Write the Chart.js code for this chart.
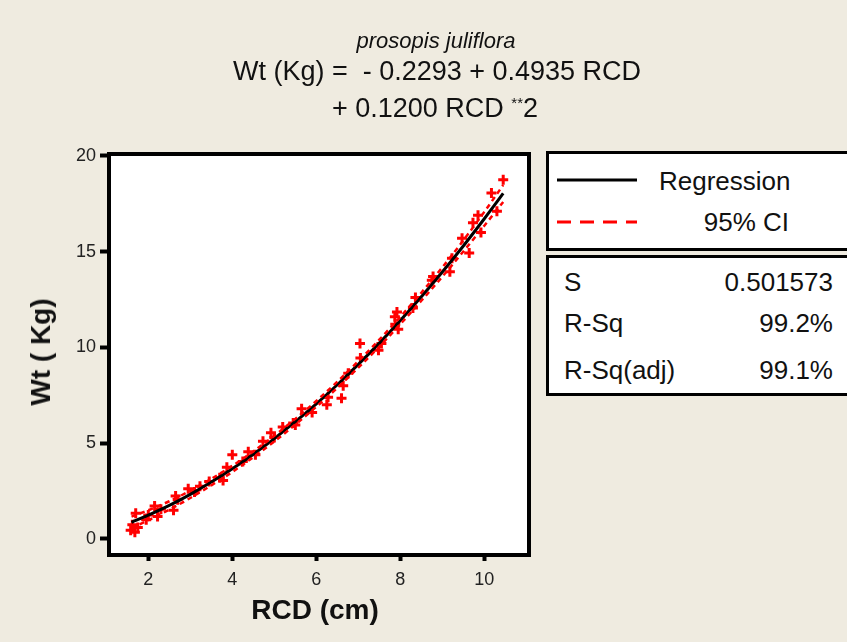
<!DOCTYPE html>
<html>
<head>
<meta charset="utf-8">
<script src="https://cdn.jsdelivr.net/npm/chart.js@4.4.1/dist/chart.umd.min.js"></script>
<style>
  html, body { margin:0; padding:0; background:#efebe0; }
  #wrap { position:relative; width:847px; height:642px; overflow:hidden; background:#efebe0; font-family:"Liberation Sans", Arial, sans-serif; color:#111; }
  canvas { position:absolute; left:0; top:0; }
  .t { position:absolute; white-space:nowrap; line-height:1; }
  .box { position:absolute; background:#fff; border:3px solid #000; box-sizing:border-box; }
</style>
</head>
<body>
<div id="wrap">
  <canvas id="c" width="847" height="642"></canvas>

  <div class="t" style="left:436px; top:41px; transform:translate(-50%,-50%); font-size:22px; font-style:italic;">prosopis juliflora</div>
  <div class="t" style="left:437px; top:71px; transform:translate(-50%,-50%); font-size:27px;">Wt (Kg) = &nbsp;- 0.2293 + 0.4935 RCD</div>
  <div class="t" style="left:435px; top:108px; transform:translate(-50%,-50%); font-size:27px;">+ 0.1200 RCD <span style="font-size:15px; vertical-align:9px;">**</span>2</div>

  <div class="t" style="left:41px; top:352px; transform:translate(-50%,-50%) rotate(-90deg); font-size:28px; font-weight:bold;">Wt ( Kg)</div>
  <div class="t" style="left:315px; top:610px; transform:translate(-50%,-50%); font-size:28px; font-weight:bold;">RCD (cm)</div>

  <div class="box" style="left:546px; top:151px; width:320px; height:100px;"></div>
  <svg style="position:absolute; left:0; top:0;" width="847" height="642">
    <line x1="557" y1="180" x2="637" y2="180" stroke="#000" stroke-width="3"/>
    <line x1="557" y1="222" x2="637" y2="222" stroke="#ff0000" stroke-width="3" stroke-dasharray="14 9"/>
  </svg>
  <div class="t" style="left:659px; top:181px; transform:translateY(-50%); font-size:26px;">Regression</div>
  <div class="t" style="right:58px; top:222px; transform:translateY(-50%); font-size:26px;">95% CI</div>

  <div class="box" style="left:546px; top:255px; width:320px; height:141px;"></div>
  <div class="t" style="left:564px; top:282px; transform:translateY(-50%); font-size:26px;">S</div>
  <div class="t" style="right:14px; top:282px; transform:translateY(-50%); font-size:26px;">0.501573</div>
  <div class="t" style="left:564px; top:323px; transform:translateY(-50%); font-size:26px;">R-Sq</div>
  <div class="t" style="right:14px; top:323px; transform:translateY(-50%); font-size:26px;">99.2%</div>
  <div class="t" style="left:564px; top:370px; transform:translateY(-50%); font-size:26px;">R-Sq(adj)</div>
  <div class="t" style="right:14px; top:370px; transform:translateY(-50%); font-size:26px;">99.1%</div>
</div>

<script>
// ---- data ----
const rcd = [1.58, 1.62, 1.68, 1.70, 1.75, 1.95, 2.00, 2.15, 2.22, 2.30,
             2.60, 2.65, 2.70, 2.95, 3.10, 3.23, 3.45, 3.70, 3.78, 3.87,
             4.00, 4.25, 4.38, 4.55, 4.73, 4.92, 5.00, 5.20, 5.45, 5.50,
             5.65, 5.90, 6.25, 6.28, 6.60, 6.64, 6.76, 7.04, 7.05, 7.48,
             7.55, 7.87, 7.88, 7.92, 7.95, 8.30, 8.36, 8.75, 8.78, 9.18,
             9.23, 9.47, 9.64, 9.73, 9.85, 9.92, 10.17, 10.30, 10.45];
const wt  = [0.45, 0.75, 0.35, 1.35, 0.60, 1.00, 1.25, 1.72, 1.18, 1.55,
             1.50, 2.25, 2.05, 2.62, 2.45, 2.75, 3.00, 3.20, 3.05, 3.75,
             4.40, 4.05, 4.55, 4.40, 5.10, 5.55, 5.30, 5.85, 6.05, 5.95,
             6.80, 6.60, 7.00, 7.40, 7.35, 8.00, 8.65, 10.20, 9.45, 9.85,
             10.20, 11.60, 11.20, 11.85, 10.95, 12.05, 12.60, 13.50, 13.70, 13.95,
             14.65, 15.70, 14.93, 16.50, 16.90, 16.00, 18.05, 17.10, 18.75];

const fitX  = [1.6, 2.0, 2.5, 3.0, 3.5, 4.0, 4.5, 5.0, 5.5, 6.0, 6.5, 7.0, 7.5, 8.0, 8.5, 9.0, 9.5, 10.0, 10.45];
const fitY  = [0.87, 1.24, 1.75, 2.33, 2.97, 3.66, 4.42, 5.24, 6.12, 7.05, 8.05, 9.11, 10.22, 11.40, 12.64, 13.93, 15.29, 16.71, 18.03];
const ciLow = [0.57, 0.98, 1.53, 2.14, 2.80, 3.50, 4.27, 5.09, 5.97, 6.90, 7.89, 8.94, 10.04, 11.21, 12.43, 13.69, 15.00, 16.35, 17.59];
const ciUp  = [1.17, 1.50, 1.97, 2.52, 3.14, 3.82, 4.57, 5.39, 6.27, 7.20, 8.21, 9.28, 10.40, 11.59, 12.85, 14.17, 15.58, 17.07, 18.47];

const xTicks = [2, 4, 6, 8, 10];
const yTicks = [0, 5, 10, 15, 20];

const pts = (xs, ys) => xs.map((x, i) => ({ x: x, y: ys[i] }));

const frame = {
  id: 'frame',
  beforeDatasetsDraw(chart) {
    const a = chart.chartArea, ctx = chart.ctx;
    ctx.save();
    ctx.fillStyle = '#ffffff';
    ctx.fillRect(a.left, a.top, a.right - a.left, a.bottom - a.top);
    ctx.restore();
  },
  afterDraw(chart) {
    const a = chart.chartArea, ctx = chart.ctx;
    ctx.save();
    ctx.strokeStyle = '#000';
    ctx.lineWidth = 4;
    ctx.strokeRect(a.left, a.top, a.right - a.left, a.bottom - a.top);
    ctx.restore();
  }
};

new Chart(document.getElementById('c'), {
  type: 'scatter',
  data: {
    datasets: [
      { label: 'upper', data: pts(fitX, ciUp), showLine: true, borderColor: '#ff0000', borderWidth: 2.5,
        borderDash: [5, 4], pointRadius: 0, fill: false, cubicInterpolationMode: 'monotone', order: 0 },
      { label: 'lower', data: pts(fitX, ciLow), showLine: true, borderColor: '#ff0000', borderWidth: 2.5,
        borderDash: [5, 4], pointRadius: 0, fill: false, cubicInterpolationMode: 'monotone', order: 0 },
      { label: 'Regression', data: pts(fitX, fitY), showLine: true, borderColor: '#000', borderWidth: 3,
        pointRadius: 0, fill: false, cubicInterpolationMode: 'monotone', order: 1 },
      { label: 'Data', data: pts(rcd, wt), showLine: false, pointStyle: 'cross', pointRadius: 5,
        borderColor: '#ff0000', backgroundColor: '#ff0000', borderWidth: 3, order: 2 }
    ]
  },
  options: {
    responsive: false,
    devicePixelRatio: 1,
    animation: false,
    layout: { padding: { left: 0, top: 154, right: 318, bottom: 0 } },
    plugins: { legend: { display: false }, tooltip: { enabled: false } },
    scales: {
      x: {
        type: 'linear', min: 1.064, max: 11.064,
        afterFit(s) { s.height = 87; },
        afterBuildTicks(s) { s.ticks = xTicks.map(v => ({ value: v })); },
        grid: { drawOnChartArea: false, drawTicks: true, tickLength: 6, tickWidth: 4, tickColor: '#000', color: '#000' },
        border: { display: false },
        ticks: { padding: 8, color: '#222', font: { family: 'Liberation Sans', size: 18 }, maxRotation: 0 }
      },
      y: {
        type: 'linear', min: -0.835, max: 20.09,
        afterFit(s) { s.width = 109; },
        afterBuildTicks(s) { s.ticks = yTicks.map(v => ({ value: v })); },
        grid: { drawOnChartArea: false, drawTicks: true, tickLength: 9, tickWidth: 4, tickColor: '#000', color: '#000' },
        border: { display: false },
        ticks: { padding: 4, color: '#222', font: { family: 'Liberation Sans', size: 18 } }
      }
    }
  },
  plugins: [frame]
});
</script>
</body>
</html>
